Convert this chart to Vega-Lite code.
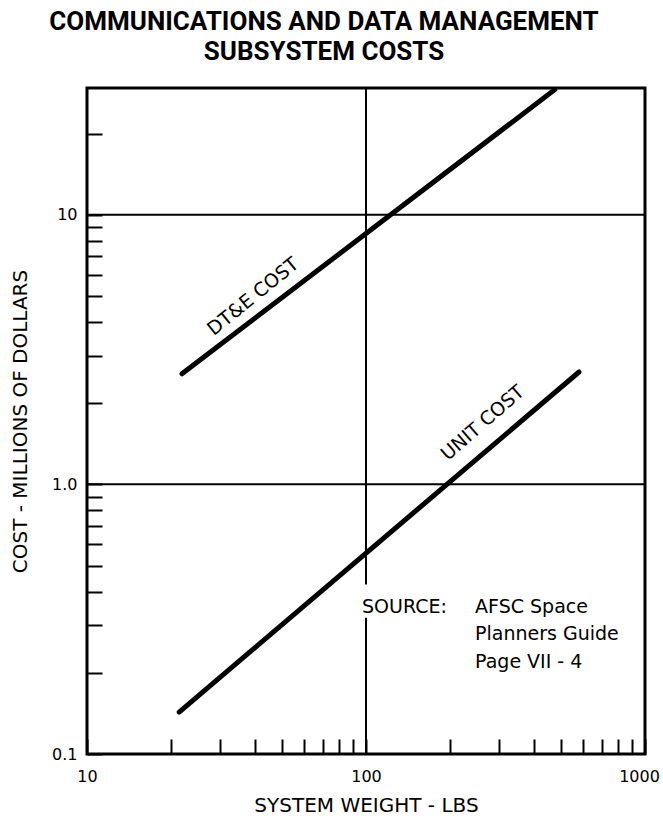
{
  "$schema": "https://vega.github.io/schema/vega-lite/v6.json",
  "width": 558,
  "height": 666,
  "autosize": {"type": "none"},
  "padding": {"left": 87, "top": 88, "right": 18, "bottom": 70},
  "background": "white",
  "title": {
    "text": ["COMMUNICATIONS AND DATA MANAGEMENT", "SUBSYSTEM COSTS"],
    "font": "Roboto",
    "fontSize": 26,
    "fontWeight": "bold",
    "color": "black",
    "lineHeight": 30,
    "offset": 22,
    "anchor": "middle",
    "dx": -42
  },
  "config": {
    "view": {"stroke": "black", "strokeWidth": 3},
    "axis": {
      "grid": false,
      "domain": false,
      "tickColor": "black",
      "tickWidth": 2,
      "tickSize": -15,
      "labelColor": "black",
      "labelFont": "DejaVu Sans",
      "labelFontSize": 16,
      "titleColor": "black",
      "titleFont": "DejaVu Sans",
      "titleFontSize": 20,
      "titleFontWeight": "normal",
      "labelFlush": false,
      "labelOverlap": false
    }
  },
  "layer": [
    {
      "data": {"values": [{"c": 1}, {"c": 10}]},
      "mark": {"type": "rule", "color": "black", "strokeWidth": 2},
      "encoding": {
        "y": {"field": "c", "type": "quantitative", "scale": {"type": "log", "domain": [0.1, 29.5], "nice": false}}
      }
    },
    {
      "data": {"values": [{"w": 100, "c": 0.1, "c2": 0.32}, {"w": 100, "c": 0.425, "c2": 29.5}]},
      "mark": {"type": "rule", "color": "black", "strokeWidth": 2},
      "encoding": {
        "x": {"field": "w", "type": "quantitative", "scale": {"type": "log", "domain": [10, 1000], "nice": false}},
        "y": {"field": "c", "type": "quantitative"},
        "y2": {"field": "c2"}
      }
    },
    {
      "data": {
        "values": [
          {"series": "DT&E COST", "w": 21.9, "c": 2.57},
          {"series": "DT&E COST", "w": 475, "c": 29.1},
          {"series": "UNIT COST", "w": 21.4, "c": 0.143},
          {"series": "UNIT COST", "w": 580, "c": 2.61}
        ]
      },
      "mark": {"type": "line", "color": "black", "strokeWidth": 5, "strokeCap": "round", "clip": true},
      "encoding": {
        "x": {
          "field": "w",
          "type": "quantitative",
          "scale": {"type": "log", "domain": [10, 1000], "nice": false},
          "axis": {
            "title": "SYSTEM WEIGHT - LBS",
            "values": [10, 20, 30, 40, 50, 60, 70, 80, 90, 100, 200, 300, 400, 500, 600, 700, 800, 900, 1000],
            "labelExpr": "datum.value == 10 || datum.value == 100 || datum.value == 1000 ? '' + datum.value : ''",
            "labelOffset": {"condition": {"test": "datum.value == 1000", "value": -6}, "value": 0},
            "labelPadding": 29,
            "titlePadding": 11
          }
        },
        "y": {
          "field": "c",
          "type": "quantitative",
          "scale": {"type": "log", "domain": [0.1, 29.5], "nice": false},
          "axis": {
            "title": "COST - MILLIONS OF DOLLARS",
            "values": [0.1, 0.2, 0.3, 0.4, 0.5, 0.6, 0.7, 0.8, 0.9, 1, 2, 3, 4, 5, 6, 7, 8, 9, 10, 20],
            "labelExpr": "datum.value == 0.1 ? '0.1' : datum.value == 1 ? '1.0' : datum.value == 10 ? '10' : ''",
            "labelPadding": 25,
            "titlePadding": 21
          }
        },
        "detail": {"field": "series"}
      }
    },
    {
      "data": {"values": [{"label": "DT&E COST", "w": 39.4, "c": 4.97}]},
      "mark": {"type": "text", "angle": -39, "font": "DejaVu Sans", "fontSize": 19, "color": "black", "align": "center", "baseline": "middle"},
      "encoding": {
        "x": {"field": "w", "type": "quantitative"},
        "y": {"field": "c", "type": "quantitative"},
        "text": {"field": "label"}
      }
    },
    {
      "data": {"values": [{"label": "UNIT COST", "w": 262, "c": 1.69}]},
      "mark": {"type": "text", "angle": -41, "font": "DejaVu Sans", "fontSize": 19, "color": "black", "align": "center", "baseline": "middle"},
      "encoding": {
        "x": {"field": "w", "type": "quantitative"},
        "y": {"field": "c", "type": "quantitative"},
        "text": {"field": "label"}
      }
    },
    {
      "data": {
        "values": [
          {"label": "SOURCE:", "w": 96.8, "c": 0.351},
          {"label": "AFSC Space", "w": 246, "c": 0.351},
          {"label": "Planners Guide", "w": 246, "c": 0.279},
          {"label": "Page VII - 4", "w": 246, "c": 0.2195}
        ]
      },
      "mark": {"type": "text", "font": "DejaVu Sans", "fontSize": 19, "color": "black", "align": "left", "baseline": "middle"},
      "encoding": {
        "x": {"field": "w", "type": "quantitative"},
        "y": {"field": "c", "type": "quantitative"},
        "text": {"field": "label"}
      }
    }
  ]
}
